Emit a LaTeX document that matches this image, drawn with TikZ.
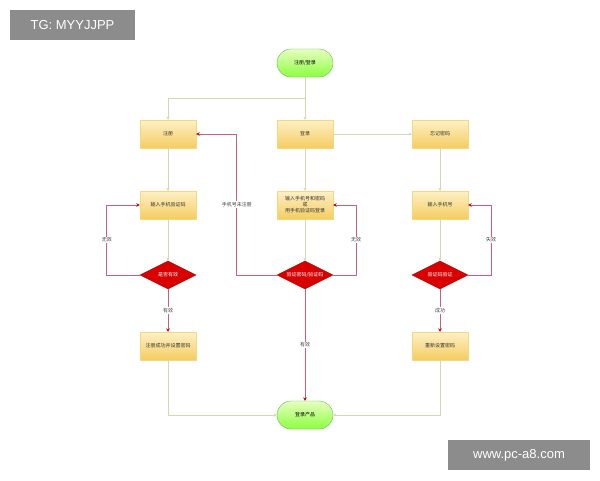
\documentclass[tikz,border=0pt]{standalone}
\usepackage{fontspec}
\setmainfont{Liberation Sans}
\newfontfamily\cjk{Noto Sans CJK SC}
\usetikzlibrary{shapes.geometric,arrows.meta}
\definecolor{gline}{HTML}{D6D6B0}
\definecolor{rline}{HTML}{C8607A}
\definecolor{boxf}{HTML}{FCE7A0}
\definecolor{boxd}{HTML}{F5CC60}
\tikzset{
 box/.style={draw=boxd!80!white,top color=boxf!60!white,bottom color=boxd,minimum width=56pt,minimum height=28pt,inner sep=1pt,font=\cjk\fontsize{5}{6}\selectfont,align=center,text=black!80},
 term/.style={draw=green!50!black!60,rounded corners=14pt,top color=yellow!60!green!25,bottom color=yellow!40!green!75,minimum width=56pt,minimum height=28pt,font=\cjk\fontsize{5}{6}\selectfont},
 dia/.style={diamond,aspect=2,fill=red!85!black,draw=red!70!black,minimum width=56pt,minimum height=28pt,inner sep=0pt,font=\cjk\fontsize{5}{6}\selectfont,text=white},
 g/.style={draw=gline,line width=0.8pt,-{Stealth[length=3pt,width=3pt]}},
 r/.style={draw=rline,line width=0.8pt,-{Stealth[length=3.5pt,width=3.5pt,color=red!80!black]}},
 lab/.style={fill=white,inner sep=1pt,font=\cjk\fontsize{5}{6}\selectfont,text=black!75},
 wm/.style={fill=black!45,text=white,font=\fontsize{13}{15}\selectfont,inner sep=0pt}
}
\begin{document}
\begin{tikzpicture}[x=1pt,y=-1pt]
\useasboundingbox[fill=white] (0,0) rectangle (600,480);
\node[term] (start) at (305,63) {注册/登录};
\node[box] (reg) at (168,134) {注册};
\node[box] (login) at (305,134) {登录};
\node[box] (forget) at (440,134) {忘记密码};
\node[box] (incode) at (168,205) {输入手机验证码};
\node[box] (inpw) at (305,205) {输入手机号和密码\\或\\用手机验证码登录};
\node[box] (inphone) at (440,205) {输入手机号};
\node[dia] (d1) at (168,275) {是否有效};
\node[dia] (d2) at (305,275) {验证密码/验证码};
\node[dia] (d3) at (440,275) {验证码验证};
\node[box] (regok) at (168,346) {注册成功并设置密码};
\node[box] (reset) at (440,346) {重新设置密码};
\node[term] (end) at (305,415) {登录产品};
\coordinate (br) at (305,98);
\draw[g] (start) -- (login);
\draw[g] (br) -| (reg);
\draw[g] (login) -- (forget);
\draw[g] (reg) -- (incode);
\draw[g] (login) -- (inpw);
\draw[g] (forget) -- (inphone);
\draw[g] (incode) -- (d1);
\draw[g] (inpw) -- (d2);
\draw[g] (inphone) -- (d3);
\draw[g] (regok) |- (end);
\draw[g] (reset) |- (end);
\draw[r] (d1.west) -- ++(-33,0) |- node[lab,pos=0.25] {无效} (incode.west);
\draw[r] (d2.east) -- ++(23,0) |- node[lab,pos=0.25] {无效} (inpw.east);
\draw[r] (d3.east) -- ++(23,0) |- node[lab,pos=0.25] {失效} (inphone.east);
\draw[r] (d2.west) -- ++(-40,0) |- node[lab,pos=0.25] {手机号未注册} (reg.east);
\draw[r] (d1) -- node[lab] {有效} (regok);
\draw[r] (d2) -- node[lab] {有效} (end);
\draw[r] (d3) -- node[lab] {成功} (reset);
\node[wm,minimum width=125pt,minimum height=30pt] (wm1) at (72.5,25) {TG: MYYJJPP};
\node[wm,minimum width=142pt,minimum height=30pt] (wm2) at (519,455) {www.pc-a8.com};
\end{tikzpicture}
\end{document}
